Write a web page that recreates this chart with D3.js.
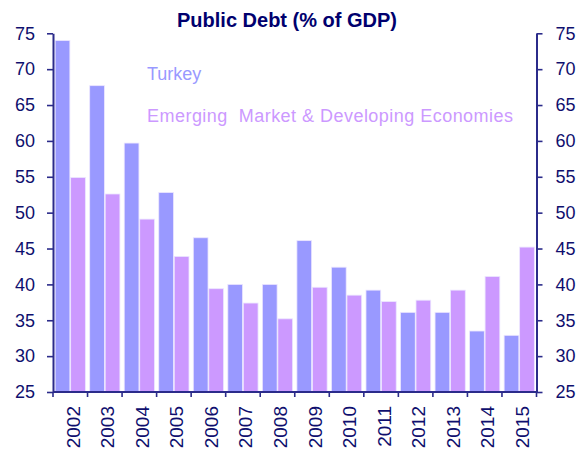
<!DOCTYPE html>
<html>
<head>
<meta charset="utf-8">
<script src="https://cdn.jsdelivr.net/npm/d3@7"></script>
<style>
  html, body { margin: 0; padding: 0; background: #ffffff; }
  svg { display: block; font-family: "Liberation Sans", Arial, sans-serif; }
</style>
</head>
<body>
<svg id="chart" width="584" height="450"></svg>
<script>
// Public debt, % of GDP
const years = ["2002","2003","2004","2005","2006","2007","2008","2009","2010","2011","2012","2013","2014","2015"];
const turkey = [74.0, 67.7, 59.7, 52.8, 46.5, 40.0, 40.0, 46.1, 42.4, 39.2, 36.1, 36.1, 33.5, 32.9];
const emde   = [54.9, 52.6, 49.1, 43.9, 39.4, 37.4, 35.2, 39.6, 38.5, 37.6, 37.8, 39.2, 41.1, 45.2];
const seriesNames = ["Turkey", "Emerging  Market & Developing Economies"];
const yTicks = [25, 30, 35, 40, 45, 50, 55, 60, 65, 70, 75];

const colors = { turkey: "#9999ff", emde: "#cc99ff" };
const navy = "#0f0f6e";
const axisColor = "#2b2b8a";

const svg = d3.select("#chart");
const plotLeft = 53, plotRight = 536.5, plotTop = 33.3, plotBottom = 392;

const y = d3.scaleLinear().domain([25, 75]).range([plotBottom, plotTop]);
const x0 = d3.scaleBand().domain(years).range([plotLeft, plotRight]).paddingInner(0.08).paddingOuter(0.04);
const x1 = d3.scaleBand().domain(["turkey", "emde"]).range([0, x0.bandwidth()]).padding(0.05);

const rows = years.map((yr, i) => ({ year: yr, turkey: turkey[i], emde: emde[i] }));

// bars
const groups = svg.append("g").selectAll("g").data(rows).join("g")
  .attr("transform", d => `translate(${x0(d.year)},0)`);
groups.selectAll("rect")
  .data(d => ["turkey", "emde"].map(k => ({ key: k, value: d[k] })))
  .join("rect")
  .attr("x", d => x1(d.key))
  .attr("width", x1.bandwidth())
  .attr("y", d => y(d.value))
  .attr("height", d => y(25) - y(d.value))
  .attr("fill", d => colors[d.key])
  .attr("stroke", "#ece6ff")
  .attr("stroke-width", 0.8);

// y axes on both sides
function styleAxis(g) {
  g.selectAll(".domain").attr("stroke", axisColor).attr("stroke-width", 2);
  g.selectAll(".tick line").attr("stroke", axisColor).attr("stroke-width", 1.6);
  g.selectAll(".tick text").attr("fill", navy).attr("font-size", 18)
    .attr("font-family", "'Liberation Sans', Arial, sans-serif");
}
svg.append("g").attr("transform", `translate(${plotLeft},0)`)
  .call(d3.axisLeft(y).tickValues(yTicks).tickSize(6).tickSizeOuter(0).tickPadding(12))
  .call(styleAxis);
svg.append("g").attr("transform", `translate(${plotRight},0)`)
  .call(d3.axisRight(y).tickValues(yTicks).tickSize(6).tickSizeOuter(0).tickPadding(13))
  .call(styleAxis);

// x axis: baseline, boundary ticks, rotated year labels
const xAxis = svg.append("g");
xAxis.append("line").attr("x1", plotLeft).attr("x2", plotRight).attr("y1", plotBottom).attr("y2", plotBottom)
  .attr("stroke", axisColor).attr("stroke-width", 2);
const step = x0.step();
const boundaries = d3.range(years.length + 1).map(i => plotLeft + i * step);
xAxis.selectAll("line.tk").data(boundaries).join("line").attr("class", "tk")
  .attr("x1", d => d).attr("x2", d => d).attr("y1", plotBottom).attr("y2", plotBottom + 5)
  .attr("stroke", axisColor).attr("stroke-width", 1.6);
xAxis.selectAll("text").data(years).join("text")
  .attr("transform", d => `translate(${x0(d) + x0.bandwidth() / 2 + 9.5},${plotBottom + 14}) rotate(-90)`)
  .attr("text-anchor", "end")
  .attr("font-size", 19)
  .attr("fill", navy)
  .text(d => d);

// title
svg.append("text").attr("x", 287).attr("y", 27).attr("text-anchor", "middle")
  .attr("font-size", 20).attr("font-weight", "bold").attr("fill", "#00006e")
  .text("Public Debt (% of GDP)");

// series labels
svg.append("text").attr("x", 147).attr("y", 80).attr("font-size", 18)
  .attr("fill", colors.turkey).text(seriesNames[0]);
svg.append("text").attr("x", 147).attr("y", 121.7).attr("font-size", 18)
  .attr("fill", colors.emde).attr("textLength", 366).attr("lengthAdjust", "spacing")
  .attr("xml:space", "preserve").style("white-space", "pre")
  .text(seriesNames[1]);
</script>
</body>
</html>
